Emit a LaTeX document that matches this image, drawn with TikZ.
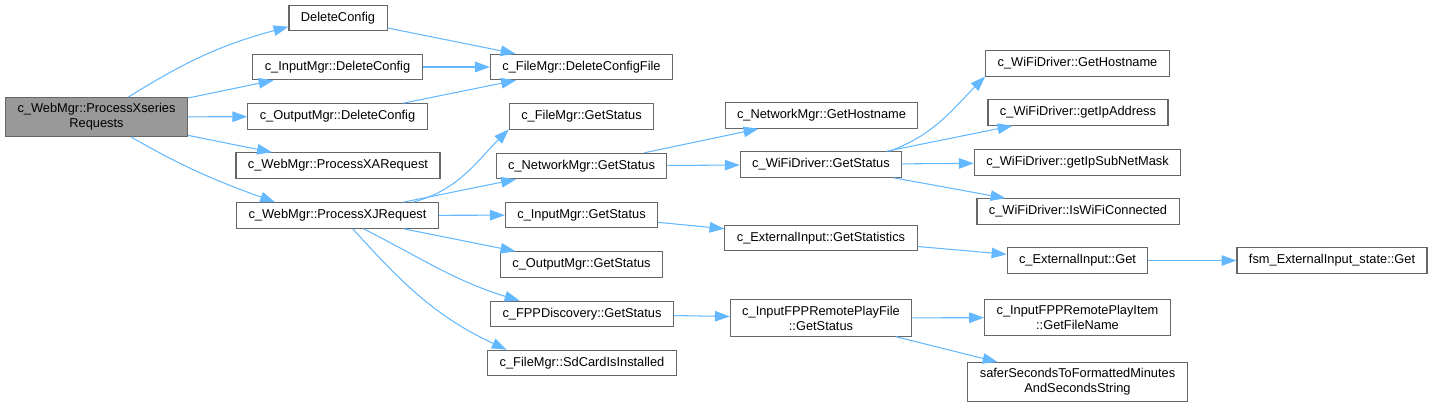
\documentclass[tikz,border=0pt]{standalone}
\usepackage{fontspec}
\setmainfont{Liberation Sans}
\usetikzlibrary{arrows.meta}
\definecolor{cEdge}{RGB}{99,184,255}
\definecolor{cBorder}{RGB}{102,102,102}
\definecolor{cRoot}{RGB}{153,153,153}

\tikzset{
    fn/.style={draw=cBorder, line width=0.6pt, fill=white, align=center,
        font=\fontsize{7.3}{8.5}\selectfont, inner xsep=6.8pt, inner ysep=3.4pt,
        minimum height=14.5pt},
    call/.style={draw=cEdge, line width=0.6pt, -{Triangle[length=8.5pt,width=6pt]}}
}

\begin{document}
\begin{tikzpicture}[x=0.02cm, y=0.02cm]
    \useasboundingbox (0,0) rectangle (1432,-407);

    % --- Caller ---
    \node[fn, fill=cRoot] (root) at (96.5,-117) {c\_WebMgr::ProcessXseries\\Requests};

    % --- Callees, one line each ---
    % \x, \y, \name, \txt
    \foreach \x/\y/\name/\txt in {
        338/18/delcfg/DeleteConfig,
        337.5/67/imdel/{c\_InputMgr::DeleteConfig},
        337.5/116.5/omdel/{c\_OutputMgr::DeleteConfig},
        338/165.5/xa/{c\_WebMgr::ProcessXARequest},
        337.5/215.5/xj/{c\_WebMgr::ProcessXJRequest},
        581.5/67/fmdel/{c\_FileMgr::DeleteConfigFile},
        581.5/116.5/fmst/{c\_FileMgr::GetStatus},
        581.5/166/nmst/{c\_NetworkMgr::GetStatus},
        581.5/215/imst/{c\_InputMgr::GetStatus},
        581.5/264.5/omst/{c\_OutputMgr::GetStatus},
        582/314/fppst/{c\_FPPDiscovery::GetStatus},
        582/363/sdcard/{c\_FileMgr::SdCardIsInstalled},
        821.5/115.5/nmhost/{c\_NetworkMgr::GetHostname},
        821/164.5/wfst/{c\_WiFiDriver::GetStatus},
        821/238/extstat/{c\_ExternalInput::GetStatistics},
        1077.5/63.5/wfhost/{c\_WiFiDriver::GetHostname},
        1078/112.5/wfip/{c\_WiFiDriver::getIpAddress},
        1077.5/162.5/wfmask/{c\_WiFiDriver::getIpSubNetMask},
        1078/211.5/wfconn/{c\_WiFiDriver::IsWiFiConnected},
        1077.5/260.5/extget/{c\_ExternalInput::Get},
        1332/260.5/fsmget/{fsm\_ExternalInput\_state::Get}%
    } {
        \node[fn] (\name) at (\x,-\y) {\txt};
    }

    % --- Callees, two lines ---
    \node[fn] (rpfst) at (821,-318) {c\_InputFPPRemotePlayFile\\::GetStatus};
    \node[fn] (rpiname) at (1077.5,-317.5) {c\_InputFPPRemotePlayItem\\::GetFileName};
    \node[fn] (safer) at (1077.5,-382) {saferSecondsToFormattedMinutes\\AndSecondsString};

    % --- Straight calls ---
    \foreach \a/\b in {root/imdel, root/omdel, root/xa,
        delcfg/fmdel, imdel/fmdel, omdel/fmdel,
        xj/nmst, xj/imst, xj/omst,
        nmst/nmhost, nmst/wfst,
        wfst/wfip, wfst/wfmask, wfst/wfconn,
        imst/extstat, extstat/extget, extget/fsmget,
        fppst/rpfst, rpfst/rpiname, rpfst/safer}
        \draw[call] (\a) -- (\b);

    % --- Curved calls ---
    \draw[call] (root) to[out=32, in=195] (delcfg.190);
    \draw[call] (root) to[out=-30, in=160] (xj.168);
    \draw[call] (xj.10) to[out=15, in=225] (fmst.190);
    \draw[call] (xj.-27) to[out=-27, in=163] (fppst.168);
    \draw[call] (xj.-41) to[out=-48, in=155] (sdcard.170);
    \draw[call] (wfst.11) to[out=20, in=225] (wfhost.188);

\end{tikzpicture}
\end{document}
